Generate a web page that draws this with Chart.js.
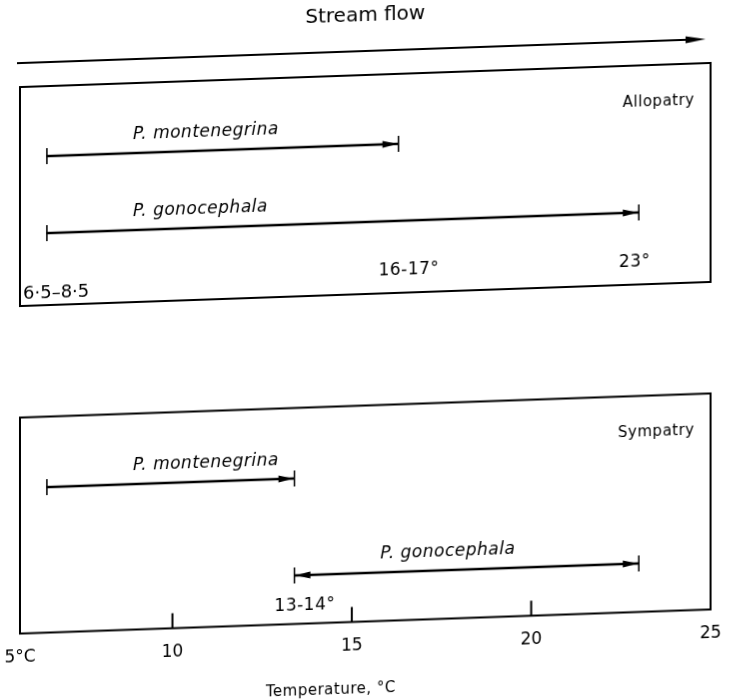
<!DOCTYPE html>
<html>
<head>
<meta charset="utf-8">
<script src="https://cdn.jsdelivr.net/npm/chart.js@4.4.1/dist/chart.umd.min.js"></script>
<style>
  html, body { margin: 0; padding: 0; background: #fff; }
  #figure {
    width: 731px;
    height: 700px;
    transform: skewY(-2deg);
    transform-origin: 365.5px 350px;
  }
  canvas { display: block; }
</style>
</head>
<body>
<div id="figure">
  <canvas id="allopatry" width="731" height="340"></canvas>
  <canvas id="sympatry" width="731" height="360"></canvas>
</div>
<script>
const species = ['P. montenegrina', 'P. gonocephala'];

// temperature range of each species, [lower, upper] in °C
const allopatryRanges = [[6.5, 16.3], [6.5, 23]];
const sympatryRanges = [[6.5, 13.4], [13.4, 23]];

// labels written at the upper end of each range
const allopatryEndLabels = ['16-17°', '23°'];
const sympatryEndLabels = ['13-14°', ''];
const allopatryStartLabel = '6·5–8·5';

// temperature axis
const tempTicks = [10, 15, 20, 25];
const originLabel = '5°C';
const tempMin = 5.75;
const tempMax = 25;

const FONT = 'DejaVu Sans';

// filled arrow head with its tip at (x, y); dir 1 points right, -1 left
function arrowHead(ctx, x, y, dir, len) {
  ctx.beginPath();
  ctx.moveTo(x, y);
  ctx.lineTo(x - dir * len, y - 3.5);
  ctx.lineTo(x - dir * len, y + 3.5);
  ctx.closePath();
  ctx.fill();
}

// frame, end stops, arrows and the hand lettering around the bars
const rangeMarks = {
  id: 'rangeMarks',
  afterDatasetsDraw(chart, args, opts) {
    const ctx = chart.ctx;
    const a = chart.chartArea;
    const top = a.top - opts.frameTop;
    const bottom = a.bottom + opts.frameBottom;
    ctx.save();
    ctx.strokeStyle = '#000';
    ctx.fillStyle = '#000';
    ctx.lineWidth = 2;
    ctx.textBaseline = 'middle';

    ctx.strokeRect(a.left, top, a.right - a.left, bottom - top);

    ctx.font = `15px ${FONT}`;
    ctx.letterSpacing = '0.5px';
    ctx.textAlign = 'right';
    ctx.fillText(opts.panel, a.right - 16, top + 37);

    if (opts.flowArrow) {
      const y = top - 24;
      ctx.beginPath();
      ctx.moveTo(a.left - 3, y);
      ctx.lineTo(a.right - 12, y);
      ctx.stroke();
      arrowHead(ctx, a.right - 5, y, 1, 20);
    }

    if (opts.startLabel) {
      ctx.font = `18px ${FONT}`;
      ctx.letterSpacing = '0px';
      ctx.textAlign = 'left';
      ctx.fillText(opts.startLabel, a.left + 3, bottom - 12);
    }

    if (opts.innerTicks) {
      const scale = chart.scales.x;
      ctx.beginPath();
      scale.ticks.forEach(t => {
        if (t.value <= scale.min || t.value >= scale.max) return;
        const x = scale.getPixelForValue(t.value);
        ctx.moveTo(x, a.bottom);
        ctx.lineTo(x, a.bottom - 15);
      });
      ctx.stroke();
    }

    const meta = chart.getDatasetMeta(0);
    meta.data.forEach((bar, i) => {
      const x0 = bar.base;
      const x1 = bar.x;
      const y = bar.y;
      ctx.lineWidth = 1.5;
      ctx.beginPath();
      ctx.moveTo(x0, y - 8);
      ctx.lineTo(x0, y + 8);
      ctx.moveTo(x1, y - 8);
      ctx.lineTo(x1, y + 8);
      ctx.stroke();
      arrowHead(ctx, x1 - 1, y, 1, 15);
      if (opts.arrowStart[i]) arrowHead(ctx, x0 + 1, y, -1, 15);

      ctx.font = `italic 17px ${FONT}`;
      ctx.letterSpacing = '0.5px';
      ctx.textAlign = 'left';
      ctx.fillText(chart.data.labels[i], x0 + 86, y - 18);

      const endLabel = opts.endLabels[i];
      if (endLabel) {
        ctx.font = `17px ${FONT}`;
        ctx.letterSpacing = '0.5px';
        ctx.fillText(endLabel, x1 - 20, bottom - opts.endLabelLift);
      }
    });

    if (opts.axisTitle) {
      ctx.font = `15px ${FONT}`;
      ctx.letterSpacing = '0.5px';
      ctx.textAlign = 'center';
      ctx.fillText(opts.axisTitle, a.left + (a.right - a.left) * 0.45, a.bottom + 68);
    }
    ctx.restore();
  }
};

function rangeChart(canvasId, ranges, marks, extra) {
  const showAxis = !!extra.showAxis;
  return new Chart(document.getElementById(canvasId), {
    type: 'bar',
    data: {
      labels: species,
      datasets: [{
        data: ranges,
        backgroundColor: '#000',
        borderWidth: 0,
        barThickness: 2
      }]
    },
    options: {
      indexAxis: 'y',
      responsive: false,
      animation: false,
      layout: { padding: extra.padding },
      scales: {
        x: {
          type: 'linear',
          min: tempMin,
          max: tempMax,
          display: showAxis,
          afterBuildTicks: scale => {
            scale.ticks = [tempMin].concat(tempTicks).map(v => ({ value: v }));
          },
          afterFit: scale => {
            if (showAxis) scale.height = 78;
          },
          // tick marks are drawn inside the frame by the plugin; the
          // tick length here only pushes the labels down
          grid: { display: false, drawTicks: true, tickLength: 14 },
          border: { display: false },
          ticks: {
            autoSkip: false,
            maxRotation: 0,
            padding: 0,
            color: '#000',
            font: { family: FONT, size: 17 },
            callback: v => (v === tempMin ? originLabel : v)
          }
        },
        y: {
          type: 'category',
          display: false,
          offset: true
        }
      },
      plugins: {
        legend: { display: false },
        tooltip: { enabled: false },
        title: extra.title || { display: false },
        rangeMarks: marks
      }
    },
    plugins: [rangeMarks]
  });
}

rangeChart('allopatry', allopatryRanges, {
  panel: 'Allopatry',
  frameTop: 31.5,
  frameBottom: 33.5,
  flowArrow: true,
  startLabel: allopatryStartLabel,
  endLabels: allopatryEndLabels,
  endLabelLift: 22,
  arrowStart: [false, false]
}, {
  padding: { left: 20, right: 20, top: 0, bottom: 79.5 },
  title: {
    display: true,
    text: 'Stream flow',
    color: '#000',
    font: { family: FONT, size: 20, weight: 'normal' },
    padding: { top: 4, bottom: 78.5 }
  }
});

rangeChart('sympatry', sympatryRanges, {
  panel: 'Sympatry',
  frameTop: 22,
  frameBottom: 0,
  innerTicks: true,
  endLabels: sympatryEndLabels,
  endLabelLift: 18,
  arrowStart: [false, true],
  axisTitle: 'Temperature, °C'
}, {
  showAxis: true,
  padding: { left: 20, right: 20, top: 87.5, bottom: 0.5 }
});
</script>
</body>
</html>
